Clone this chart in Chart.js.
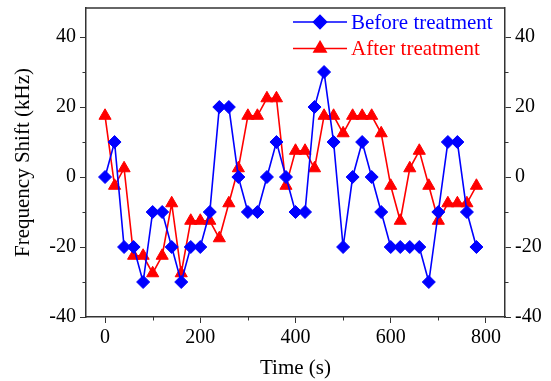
<!DOCTYPE html>
<html>
<head>
<meta charset="utf-8">
<script src="https://cdn.jsdelivr.net/npm/chart.js@4.4.1/dist/chart.umd.min.js"></script>
<style>
html,body{margin:0;padding:0;background:#fff;}
#wrap{width:551px;height:381px;}
</style>
</head>
<body>
<div id="wrap"><canvas id="c" width="551" height="381"></canvas></div>
<script>
/* DATA */
const times = [0,20,40,60,80,100,120,140,160,180,200,220,240,260,280,300,320,340,360,380,
               400,420,440,460,480,500,520,540,560,580,600,620,640,660,680,700,720,740,760,780];
const before = [0,10,-20,-20,-30,-10,-10,-20,-30,-20,-20,-10,20,20,0,-10,-10,0,10,0,
                -10,-10,20,30,10,-20,0,10,0,-10,-20,-20,-20,-20,-30,-10,10,10,-10,-20];
const after = [17.5,-2.5,2.5,-22.5,-22.5,-27.5,-22.5,-7.5,-27.5,-12.5,-12.5,-12.5,-17.5,-7.5,2.5,17.5,17.5,22.5,22.5,-2.5,
               7.5,7.5,2.5,17.5,17.5,12.5,17.5,17.5,17.5,12.5,-2.5,-12.5,2.5,7.5,-2.5,-12.5,-7.5,-7.5,-7.5,-2.5];
const labels = ["Before treatment","After treatment"];
const xTicks = [0,200,400,600,800];
const xMinor = [100,300,500,700];
const yTicks = [-40,-20,0,20,40];
const yMinor = [-30,-10,10,30];

const FONT = "'Liberation Serif','Times New Roman',serif";
const AXIS = "#333";

function pts(arr){
  return times.map((t,i)=>({x:t,y:arr[i]}));
}

/* minor ticks + top border */
const frame = {
  id:"frame",
  afterDraw(chart){
    const ctx = chart.ctx, a = chart.chartArea;
    const sx = chart.scales.x, sy = chart.scales.y;
    ctx.save();
    ctx.strokeStyle = AXIS;
    ctx.lineWidth = 1.5;
    ctx.beginPath();
    ctx.moveTo(a.left, a.top);
    ctx.lineTo(a.right, a.top);
    ctx.stroke();
    ctx.lineWidth = 1;
    ctx.beginPath();
    xMinor.forEach(v=>{
      const px = Math.round(sx.getPixelForValue(v))+0.5;
      ctx.moveTo(px, a.bottom);
      ctx.lineTo(px, a.bottom+3.5);
    });
    yMinor.forEach(v=>{
      const py = Math.round(sy.getPixelForValue(v))+0.5;
      ctx.moveTo(a.left, py);
      ctx.lineTo(a.left-3.5, py);
      ctx.moveTo(a.right, py);
      ctx.lineTo(a.right+3.5, py);
    });
    ctx.stroke();
    ctx.restore();
  }
};

/* legend with line + marker */
const lineLegend = {
  id:"lineLegend",
  afterDatasetsDraw(chart){
    const ctx = chart.ctx;
    ctx.save();
    chart.data.datasets.forEach((ds,i)=>{
      const y = 22 + i*26.5;
      ctx.strokeStyle = ds.borderColor;
      ctx.lineWidth = ds.borderWidth;
      ctx.beginPath();
      ctx.moveTo(293, y);
      ctx.lineTo(347, y);
      ctx.stroke();
      ctx.fillStyle = ds.pointBackgroundColor;
      ctx.strokeStyle = ds.pointBorderColor;
      Chart.helpers.drawPoint(ctx, {pointStyle:ds.pointStyle, radius:ds.pointRadius, borderWidth:1, rotation:0}, 320, y);
      ctx.fillStyle = ds.borderColor;
      ctx.font = "21px " + FONT;
      ctx.textBaseline = "middle";
      ctx.textAlign = "left";
      ctx.fillText(ds.label, 351, y+1);
    });
    ctx.restore();
  }
};

function axisY(pos, w){
  return {
    type:"linear",
    position:pos,
    display:true,
    min:-40,
    max:48.3,
    afterBuildTicks:s=>{ s.ticks = yTicks.map(v=>({value:v})); },
    afterFit:s=>{ s.width = w; s.paddingTop = 0; s.paddingBottom = 0; },
    grid:{drawOnChartArea:false, tickLength:6, tickColor:AXIS, tickWidth:1},
    border:{color:AXIS, width:1.5},
    ticks:{color:"#000", font:{family:FONT, size:20}, padding:4},
    title: pos==="left" ? {display:true, text:"Frequency Shift (kHz)", color:"#000", font:{family:FONT, size:21}, padding:{top:11,bottom:0}} : {display:false}
  };
}

new Chart(document.getElementById("c"), {
  type:"line",
  data:{
    datasets:[{
      label:labels[0],
      data:pts(before),
      borderColor:"#0000ff",
      backgroundColor:"#0000ff",
      pointBackgroundColor:"#0000ff",
      pointBorderColor:"#0000ff",
      pointStyle:"rectRot",
      pointRadius:6.5,
      pointBorderWidth:1,
      borderWidth:1.6,
      tension:0
    },{
      label:labels[1],
      data:pts(after),
      borderColor:"#ff0000",
      backgroundColor:"#ff0000",
      pointBackgroundColor:"#ff0000",
      pointBorderColor:"#ff0000",
      pointStyle:"triangle",
      pointRadius:7,
      pointBorderWidth:1,
      borderWidth:1.6,
      tension:0
    }]
  },
  options:{
    responsive:false,
    animation:false,
    devicePixelRatio:1,
    layout:{padding:{top:7,left:0,right:0,bottom:0}},
    plugins:{legend:{display:false}, tooltip:{enabled:false}},
    scales:{
      x:{
        type:"linear",
        min:-40,
        max:840,
        afterBuildTicks:s=>{ s.ticks = xTicks.map(v=>({value:v})); },
        afterFit:s=>{ s.height = 64; },
        grid:{drawOnChartArea:false, tickLength:6, tickColor:AXIS, tickWidth:1},
        border:{color:AXIS, width:1.5},
        ticks:{color:"#000", font:{family:FONT, size:20}, padding:3, maxRotation:0},
        title:{display:true, text:"Time (s)", color:"#000", font:{family:FONT, size:21}, padding:{top:0,bottom:0}}
      },
      y:axisY("left", 86),
      y2:axisY("right", 46)
    }
  },
  plugins:[frame, lineLegend]
});
</script>
</body>
</html>
